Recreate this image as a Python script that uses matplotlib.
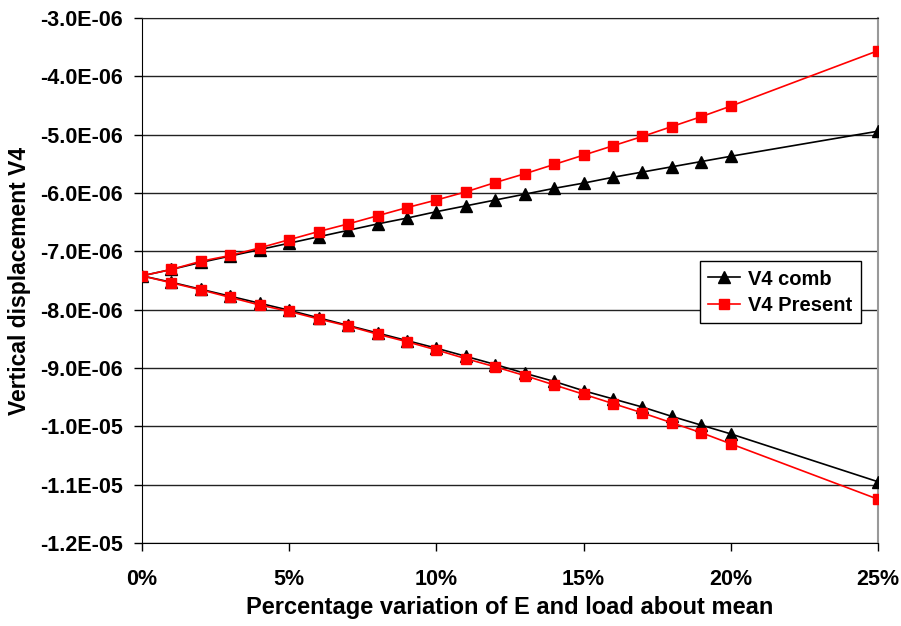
import numpy as np
import matplotlib.pyplot as plt
from matplotlib.ticker import FuncFormatter

plt.rcParams['font.family'] = ['Liberation Sans', 'DejaVu Sans']
plt.rcParams['font.weight'] = 'bold'

# percentage variation (%)
pct = [0, 1, 2, 3, 4, 5, 6, 7, 8, 9, 10, 11, 12, 13, 14, 15, 16, 17, 18, 19, 20, 25]

# V4 comb (units of 1E-06)
comb_up = [-7.42, -7.31, -7.19, -7.08, -6.97, -6.86, -6.75, -6.64, -6.53, -6.43, -6.32,
           -6.22, -6.12, -6.02, -5.92, -5.83, -5.73, -5.64, -5.55, -5.46, -5.37, -4.94]
comb_down = [-7.42, -7.53, -7.65, -7.77, -7.89, -8.01, -8.14, -8.27, -8.40, -8.53, -8.66,
             -8.80, -8.94, -9.09, -9.23, -9.39, -9.53, -9.67, -9.83, -9.98, -10.13, -10.95]

# V4 Present (units of 1E-06)
pres_up = [-7.42, -7.31, -7.17, -7.07, -6.94, -6.80, -6.66, -6.53, -6.39, -6.25, -6.12,
           -5.98, -5.82, -5.67, -5.51, -5.35, -5.19, -5.03, -4.86, -4.69, -4.51, -3.56]
pres_down = [-7.42, -7.54, -7.66, -7.79, -7.92, -8.03, -8.16, -8.28, -8.42, -8.55, -8.69,
             -8.84, -8.98, -9.13, -9.29, -9.45, -9.61, -9.77, -9.94, -10.11, -10.30, -11.25]


def both_ways(up, down):
    x = pct[::-1] + pct[1:]
    y = down[::-1] + up[1:]
    return np.array(x), np.array(y) * 1e-6


fig = plt.figure(figsize=(9.01, 6.26), dpi=100)
ax = fig.add_axes([0.1576, 0.1326, 0.8169, 0.8386])

x, y = both_ways(comb_up, comb_down)
ax.plot(x, y, color='black', lw=1.2, marker='^', ms=8, label='V4 comb', zorder=3)
x, y = both_ways(pres_up, pres_down)
ax.plot(x, y, color='#ff0000', lw=1.2, marker='s', ms=7.5, label='V4 Present', zorder=4)

ax.set_xlim(0, 25)
ax.set_ylim(-1.2e-05, -3.0e-06)
ax.set_xticks([0, 5, 10, 15, 20, 25])
ax.set_yticks(np.arange(-1.2e-05, -2.9e-06, 1e-06))
ax.xaxis.set_major_formatter(FuncFormatter(lambda v, p: '%d%%' % round(v)))
ax.yaxis.set_major_formatter(FuncFormatter(lambda v, p: '%.1E' % v))
ax.tick_params(direction='out', length=6, width=1, labelsize=15.5)
ax.tick_params(axis='x', pad=13)
ax.tick_params(axis='y', pad=8)
ax.grid(axis='y', color='#222222', lw=1)
ax.set_axisbelow(True)

for s in ['left', 'bottom']:
    ax.spines[s].set_color('black')
ax.spines['top'].set_color('#222222')
ax.spines['right'].set_color('#999999')
ax.spines['right'].set_linewidth(1.5)

ax.set_xlabel('Percentage variation of E and load about mean', fontsize=17, fontweight='bold')
ax.xaxis.set_label_coords(0.5, -0.122)
ax.xaxis.label.set_va('center')
ax.set_ylabel('Vertical displacement V4', fontsize=16.5, fontweight='bold')
ax.yaxis.set_label_coords(-0.166, 0.5)
ax.yaxis.label.set_va('center')

leg = ax.legend(loc='center right', bbox_to_anchor=(0.99, 0.478), prop={'size': 14.5, 'weight': 'bold'},
                fancybox=False, framealpha=1, edgecolor='black', handlelength=1.6,
                borderpad=0.4, labelspacing=0.35, handletextpad=0.4)
leg.get_frame().set_linewidth(1)

fig.savefig('out.png', dpi=100)
